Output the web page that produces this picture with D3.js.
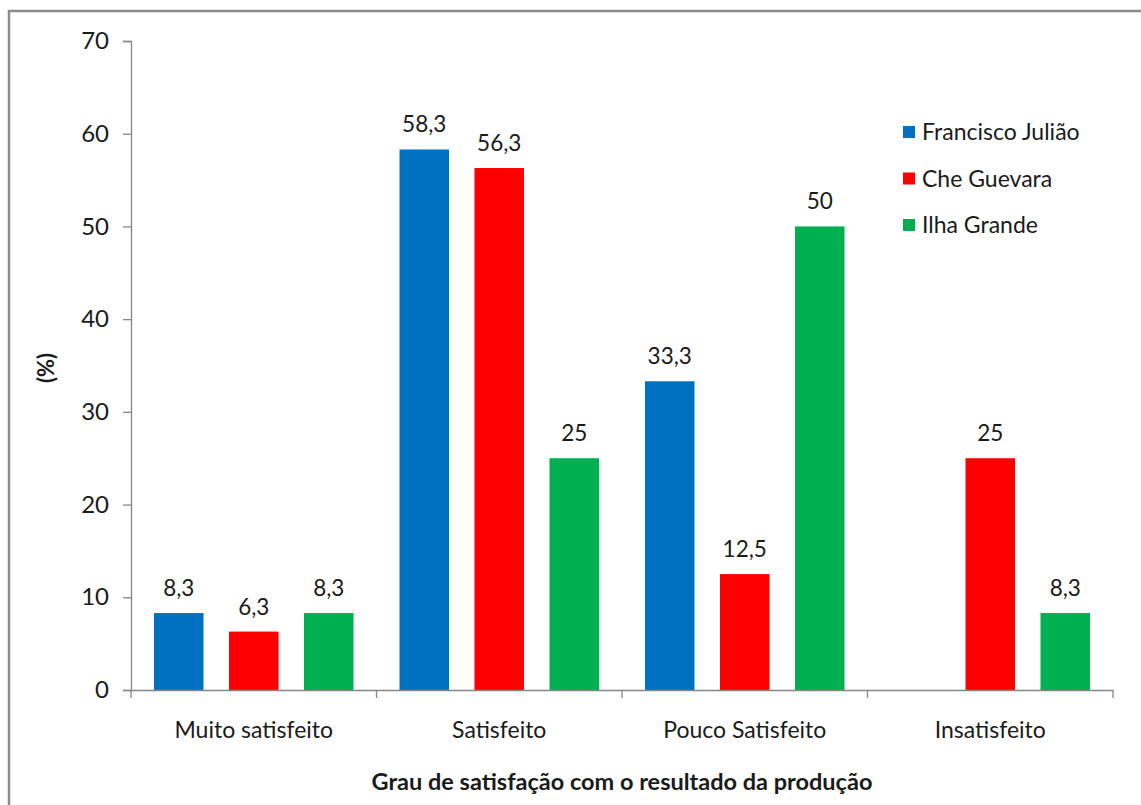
<!DOCTYPE html>
<html><head><meta charset="utf-8">
<script src="https://cdn.jsdelivr.net/npm/d3@7"></script>
<style>body{margin:0;background:#fff}svg{display:block}text{font-family:Lato,"Noto Sans",sans-serif;fill:#1a1a1a}</style>
</head><body>
<script>
const categories = ["Muito satisfeito","Satisfeito","Pouco Satisfeito","Insatisfeito"];
const seriesNames = ["Francisco Julião","Che Guevara","Ilha Grande"];
const franciscoJuliao = [8.3, 58.3, 33.3, null];
const cheGuevara = [6.3, 56.3, 12.5, 25];
const ilhaGrande = [8.3, 25, 50, 8.3];
const colors = ["#0070C0","#FF0000","#00B050"];
const yTicks = [0,10,20,30,40,50,60,70];
const xTitle = "Grau de satisfação com o resultado da produção";
const yTitle = "(%)";

const seriesValues = [franciscoJuliao, cheGuevara, ilhaGrande];
const W = 1141, H = 805;
const m = {left:131, top:41, right:1113, bottom:690};
const svg = d3.select("body").append("svg").attr("width",W).attr("height",H);

svg.append("rect").attr("x",9).attr("y",11).attr("width",W+20).attr("height",H+20)
  .attr("fill","none").attr("stroke","#8c8c8c").attr("stroke-width",2.5);

const x0 = d3.scaleBand().domain(categories).range([m.left,m.right]).padding(0);
const gap = 23;
const x1 = d3.scaleBand().domain(seriesNames).range([gap, x0.bandwidth()-gap]).paddingInner(0.34).paddingOuter(0);
const y = d3.scaleLinear().domain([0,70]).range([m.bottom,m.top]);

// y axis
const yAxis = svg.append("g").attr("transform",`translate(${m.left},0)`)
  .call(d3.axisLeft(y).tickValues(yTicks).tickSize(8).tickPadding(14).tickFormat(d3.format("d")));
yAxis.select(".domain").attr("stroke","#868686").attr("stroke-width",1.3);
yAxis.selectAll(".tick line").attr("stroke","#868686").attr("stroke-width",1.3);
yAxis.selectAll(".tick text").style("font-size","24px").style("font-family","Lato,sans-serif").attr("fill","#1a1a1a");

// bars
const data = [];
categories.forEach((c,i)=>seriesNames.forEach((s,j)=>{
  const v = seriesValues[j][i];
  if(v!==null) data.push({c,s,v,j});
}));
svg.append("g").selectAll("rect").data(data).join("rect")
  .attr("x",d=>x0(d.c)+x1(d.s)).attr("width",x1.bandwidth())
  .attr("y",d=>y(d.v)).attr("height",d=>y(0)-y(d.v))
  .attr("fill",d=>colors[d.j]);
svg.append("g").selectAll("text").data(data).join("text")
  .attr("x",d=>x0(d.c)+x1(d.s)+x1.bandwidth()/2).attr("y",d=>y(d.v)-17)
  .attr("text-anchor","middle").style("font-size","22.5px")
  .text(d=>String(d.v).replace(".",","));

// x axis
const xAxis = svg.append("g").attr("transform",`translate(0,${m.bottom})`)
  .call(d3.axisBottom(x0).tickSize(0).tickPadding(32));
xAxis.select(".domain").attr("stroke","#868686").attr("stroke-width",1.3);
xAxis.selectAll(".tick text").style("font-size","23px").style("font-family","Lato,sans-serif").attr("fill","#1a1a1a");
const bounds = categories.map(c=>x0(c)).concat([m.right]);
xAxis.selectAll(".bt").data(bounds).join("line").attr("class","bt")
  .attr("x1",d=>d).attr("x2",d=>d).attr("y1",0).attr("y2",8)
  .attr("stroke","#868686").attr("stroke-width",1.3);

// titles
svg.append("text").attr("x",(m.left+m.right)/2).attr("y",790).attr("text-anchor","middle")
  .style("font-size","23.5px").style("font-weight","bold").text(xTitle);
svg.append("text").attr("transform","translate(54,368) rotate(-90)").attr("text-anchor","middle")
  .style("font-size","22px").style("font-weight","bold").text(yTitle);

// legend
const lg = svg.append("g").attr("transform","translate(903,126)");
seriesNames.forEach((s,i)=>{
  const g = lg.append("g").attr("transform",`translate(0,${i*46.5})`);
  g.append("rect").attr("width",12).attr("height",12).attr("fill",colors[i]);
  g.append("text").attr("x",19).attr("y",6).attr("dy","0.35em").style("font-size","23px").text(s);
});
</script>
</body></html>
